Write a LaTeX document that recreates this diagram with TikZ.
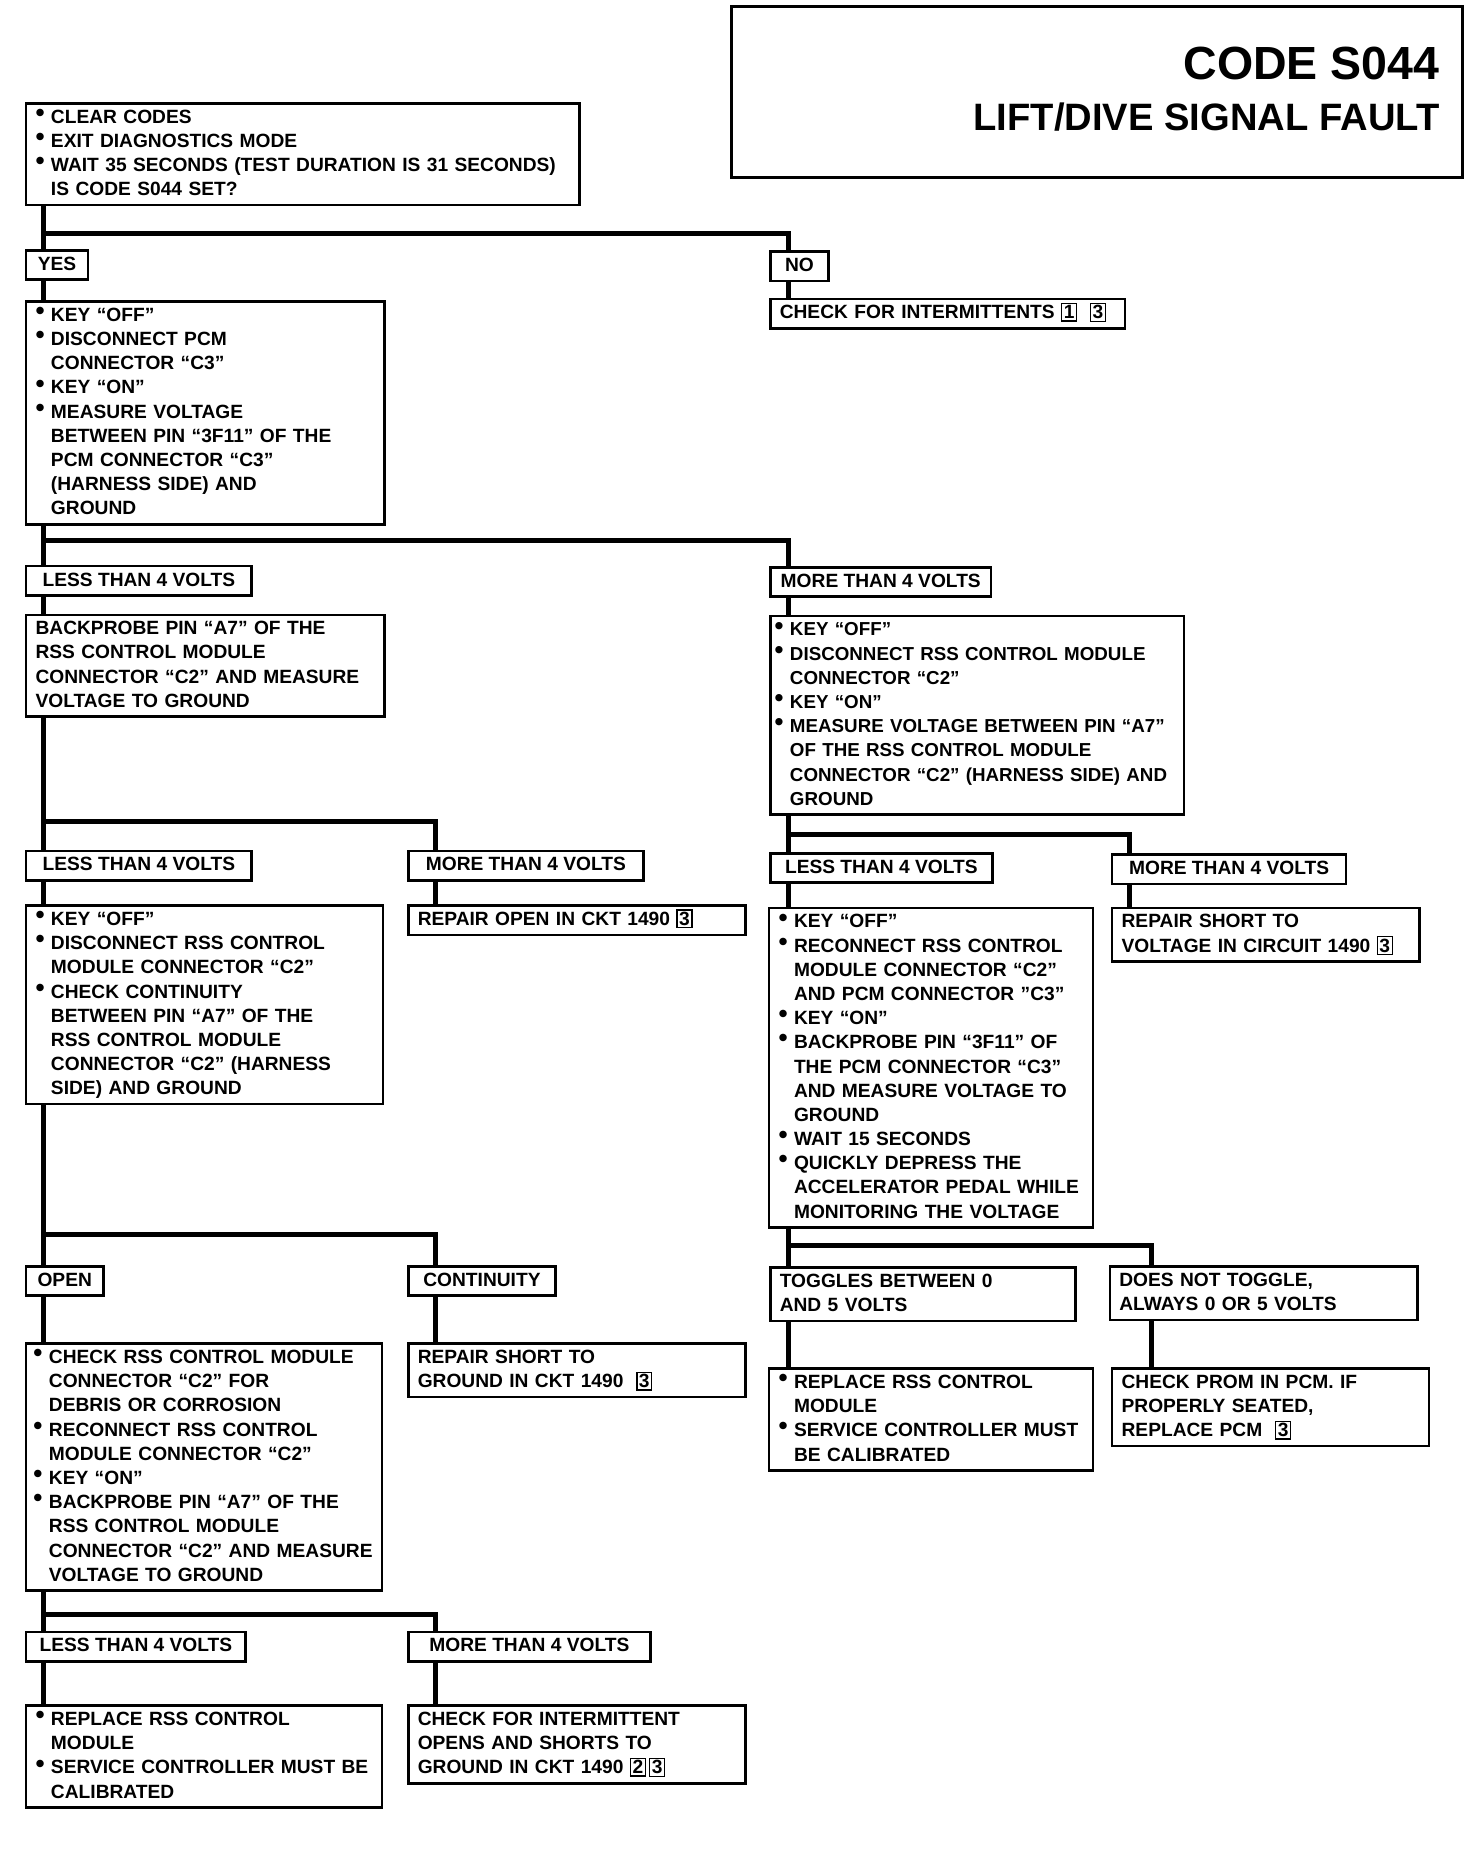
\documentclass[tikz,border=0pt]{standalone}
\usepackage{fontspec}
\setmainfont{Liberation Sans}

\newcommand{\bodyfont}{\fontsize{9.2}{11.6}\selectfont\bfseries}
\newcommand{\boxstrut}{\rule[-3pt]{0pt}{11pt}}
\newcommand{\bu}{\makebox[7.4pt][l]{\raisebox{0.9pt}{\scalebox{1.35}{\textbullet}}}}
\newcommand{\nb}{\hspace*{7.4pt}}
\newcommand{\numbox}[1]{{\setlength{\fboxsep}{0.7pt}\setlength{\fboxrule}{0.6pt}\fbox{#1}}}

\tikzset{
  box/.style={draw, line width=1.2pt, anchor=north west, align=left,
    inner xsep=4.5pt, inner ysep=1.5pt, font=\bodyfont,
    execute at begin node=\boxstrut, execute at end node=\boxstrut},
  tag/.style={box},
  link/.style={line width=2.4pt},
}

\begin{document}
\begin{tikzpicture}[x=0.02cm, y=-0.02cm]
  \useasboundingbox (0,0) rectangle (1240,1562);

  % title
  \node[draw, line width=1.4pt, anchor=north west, minimum width=12.32cm,
    minimum height=2.88cm] (titlebox) at (615,4) {};
  \node[anchor=base east, inner sep=0pt, font=\fontsize{22.3}{26}\selectfont\bfseries]
    (code) at (1213,67) {CODE S044};
  \node[anchor=base east, inner sep=0pt, font=\fontsize{18.3}{22}\selectfont\bfseries]
    (fault) at (1213,110) {LIFT/DIVE SIGNAL FAULT};

  % first test
  \node[box, text width=256.3pt] (top) at (21,86)
    {\bu CLEAR CODES\\ \bu EXIT DIAGNOSTICS MODE\\
     \bu WAIT 35 SECONDS (TEST DURATION IS 31 SECONDS)\\ \nb IS CODE S044 SET?};
  \node[tag, minimum width=1.04cm] (yes) at (21,210) {YES};
  \node[tag, minimum width=0.98cm] (no) at (648,211) {NO};
  \node[box, text width=161.1pt] (checkint) at (648,251)
    {CHECK FOR INTERMITTENTS \numbox{1}\ \ \numbox{3}};

  \node[box, text width=162.8pt] (keyoff) at (21,253)
    {\bu KEY “OFF”\\ \bu DISCONNECT PCM\\ \nb CONNECTOR “C3”\\ \bu KEY “ON”\\
     \bu MEASURE VOLTAGE\\ \nb BETWEEN PIN “3F11” OF THE\\ \nb PCM CONNECTOR “C3”\\
     \nb (HARNESS SIDE) AND\\ \nb GROUND};
  \node[tag, minimum width=3.8cm] (less1) at (21,476) {LESS THAN 4 VOLTS};
  \node[tag, minimum width=3.72cm] (more1) at (648,477) {MORE THAN 4 VOLTS};

  \node[box, text width=162.8pt] (probe) at (21,517)
    {BACKPROBE PIN “A7” OF THE\\ RSS CONTROL MODULE\\
     CONNECTOR “C2” AND MEASURE\\ VOLTAGE TO GROUND};
  \node[box, inner xsep=2pt, text width=194.4pt,
    font=\fontsize{9}{11.6}\selectfont\bfseries] (discon) at (648,518)
    {\bu KEY “OFF”\\ \bu DISCONNECT RSS CONTROL MODULE\\ \nb CONNECTOR “C2”\\
     \bu KEY “ON”\\ \bu MEASURE VOLTAGE BETWEEN PIN “A7”\\
     \nb OF THE RSS CONTROL MODULE\\ \nb CONNECTOR “C2” (HARNESS SIDE) AND\\
     \nb GROUND};

  % voltage at RSS module
  \node[tag, minimum width=3.8cm] (less2) at (21,716) {LESS THAN 4 VOLTS};
  \node[tag, minimum width=3.96cm] (more2) at (343,716) {MORE THAN 4 VOLTS};
  \node[tag, minimum width=3.74cm] (less3) at (648,718) {LESS THAN 4 VOLTS};
  \node[tag, minimum width=3.94cm] (more3) at (936,719) {MORE THAN 4 VOLTS};

  \node[box, text width=162.2pt] (cont) at (21,762)
    {\bu KEY “OFF”\\ \bu DISCONNECT RSS CONTROL\\ \nb MODULE CONNECTOR “C2”\\
     \bu CHECK CONTINUITY\\ \nb BETWEEN PIN “A7” OF THE\\ \nb RSS CONTROL MODULE\\
     \nb CONNECTOR “C2” (HARNESS\\ \nb SIDE) AND GROUND};
  \node[box, text width=152.6pt] (repopen) at (343,762)
    {REPAIR OPEN IN CKT 1490 \numbox{3}};
  \node[box, text width=146.3pt] (reconn) at (647,764)
    {\bu KEY “OFF”\\ \bu RECONNECT RSS CONTROL\\ \nb MODULE CONNECTOR “C2”\\
     \nb AND PCM CONNECTOR "C3"\\ \bu KEY “ON”\\ \bu BACKPROBE PIN “3F11” OF\\
     \nb THE PCM CONNECTOR “C3”\\ \nb AND MEASURE VOLTAGE TO\\ \nb GROUND\\
     \bu WAIT 15 SECONDS\\ \bu QUICKLY DEPRESS THE\\ \nb ACCELERATOR PEDAL WHILE\\
     \nb MONITORING THE VOLTAGE};
  \node[box, text width=138.4pt] (shortv) at (936,764)
    {REPAIR SHORT TO\\ VOLTAGE IN CIRCUIT 1490 \numbox{3}};

  % continuity and toggle results
  \node[tag, minimum width=1.3cm] (open) at (21,1066) {OPEN};
  \node[tag, minimum width=2.48cm] (contin) at (343,1066) {CONTINUITY};
  \node[box, text width=137.3pt] (toggles) at (648,1067)
    {TOGGLES BETWEEN 0\\ AND 5 VOLTS};
  \node[box, text width=138.4pt] (doesnot) at (934,1066)
    {DOES NOT TOGGLE,\\ ALWAYS 0 OR 5 VOLTS};

  \node[box, inner xsep=3.5pt, text width=163.6pt] (checkrss) at (21,1131)
    {\bu CHECK RSS CONTROL MODULE\\ \nb CONNECTOR “C2” FOR\\ \nb DEBRIS OR CORROSION\\
     \bu RECONNECT RSS CONTROL\\ \nb MODULE CONNECTOR “C2”\\ \bu KEY “ON”\\
     \bu BACKPROBE PIN “A7” OF THE\\ \nb RSS CONTROL MODULE\\
     \nb CONNECTOR “C2” AND MEASURE\\ \nb VOLTAGE TO GROUND};
  \node[box, text width=152.6pt] (shortg) at (343,1131)
    {REPAIR SHORT TO\\ GROUND IN CKT 1490 \ \numbox{3}};
  \node[box, text width=146.3pt] (replA) at (647,1152)
    {\bu REPLACE RSS CONTROL\\ \nb MODULE\\ \bu SERVICE CONTROLLER MUST\\
     \nb BE CALIBRATED};
  \node[box, text width=142.9pt] (prom) at (936,1152)
    {CHECK PROM IN PCM. IF\\ PROPERLY SEATED,\\ REPLACE PCM \ \numbox{3}};

  % last backprobe
  \node[tag, minimum width=3.7cm] (less4) at (21,1374) {LESS THAN 4 VOLTS};
  \node[tag, minimum width=4.08cm] (more4) at (343,1374) {MORE THAN 4 VOLTS};
  \node[box, text width=161.6pt] (replB) at (21,1436)
    {\bu REPLACE RSS CONTROL\\ \nb MODULE\\ \bu SERVICE CONTROLLER MUST BE\\
     \nb CALIBRATED};
  \node[box, text width=152.6pt] (checkint2) at (343,1436)
    {CHECK FOR INTERMITTENT\\ OPENS AND SHORTS TO\\
     GROUND IN CKT 1490 \numbox{2}\,\numbox{3}};

  % columns and branch points
  \coordinate (colA) at (37,0);
  \coordinate (colB) at (367,0);
  \coordinate (colC) at (664,0);
  \coordinate (colD) at (952,0);
  \coordinate (colE) at (970,0);
  \coordinate (j1) at (37,197);
  \coordinate (j2) at (37,455);
  \coordinate (j3) at (37,692);
  \coordinate (j4) at (664,703);
  \coordinate (j5) at (37,1040);
  \coordinate (j6) at (664,1049);
  \coordinate (j7) at (37,1360);

  % straight runs
  \foreach \a/\b/\c in {top/yes/colA, yes/keyoff/colA, no/checkint/colC,
      keyoff/less1/colA, less1/probe/colA, more1/discon/colC,
      probe/less2/colA, less2/cont/colA, more2/repopen/colB,
      discon/less3/colC, less3/reconn/colC, more3/shortv/colD,
      cont/open/colA, open/checkrss/colA, contin/shortg/colB,
      reconn/toggles/colC, toggles/replA/colC, doesnot/prom/colE,
      checkrss/less4/colA, less4/replB/colA, more4/checkint2/colB}
    \draw[link] (\a.south -| \c) -- (\b.north -| \c);

  % branches
  \foreach \j/\b/\c in {j1/no/colC, j2/more1/colC, j3/more2/colB, j4/more3/colD,
      j5/contin/colB, j6/doesnot/colE, j7/more4/colB}
    \draw[link] (\j) -| (\b.north -| \c);
\end{tikzpicture}
\end{document}
